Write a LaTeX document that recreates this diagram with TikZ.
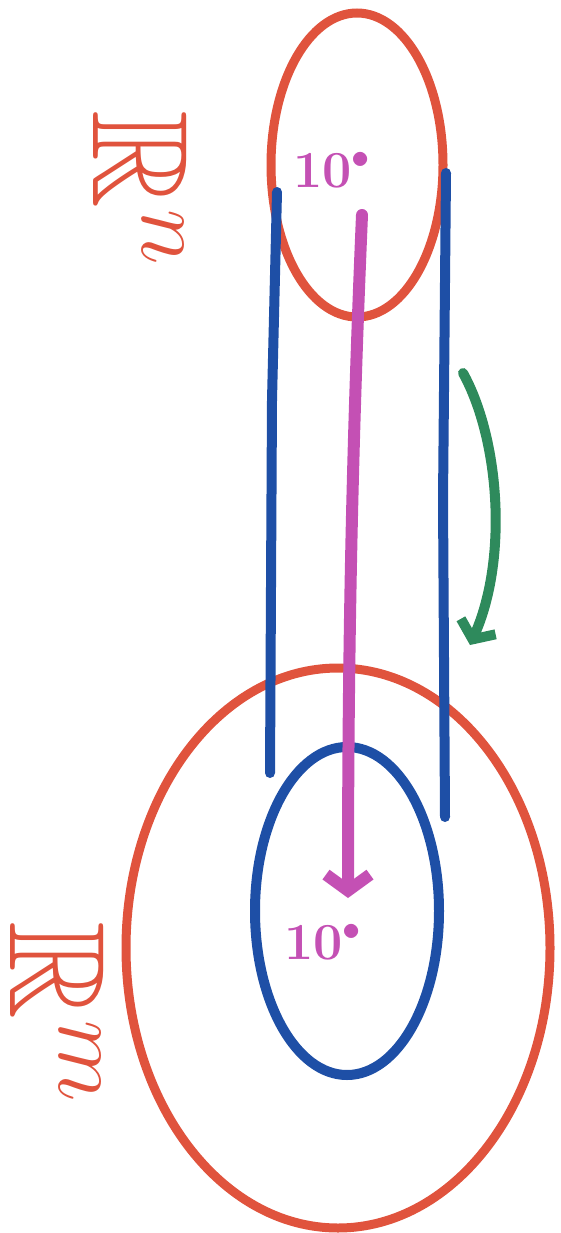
\RequirePackage{fix-cm}
\documentclass[tikz,border=0pt]{standalone}
\usepackage{amssymb}
\usepackage{tikz}
\usetikzlibrary{arrows.meta, positioning}
\definecolor{penred}{HTML}{E0533D}
\definecolor{penblue}{HTML}{1E4FA6}
\definecolor{penpink}{HTML}{C450B4}
\definecolor{pengreen}{HTML}{2E8A5C}

\begin{document}
\begin{tikzpicture}[
    x=1pt, y=-1pt,
    space/.style={draw=penred, line width=9pt},
    image/.style={draw=penblue, line width=10pt},
    tube/.style={penblue, line width=10pt, line cap=round},
    maparrow/.style={-{Straight Barb[length=16pt, width=44pt]}, penpink, line width=12pt, line cap=round},
    flowarrow/.style={-{Straight Barb[length=14pt, width=38pt]}, pengreen, line width=10pt, line cap=round},
    spacelabel/.style={text=penred, rotate=-90, font=\fontsize{136}{136}\selectfont, inner sep=0pt},
    pointlabel/.style={text=penpink, font=\fontsize{52}{52}\selectfont\bfseries, inner sep=0pt}
]
\useasboundingbox (0,0) rectangle (561,1233);

\draw[space] (357,165) ellipse [x radius=86, y radius=152];
\draw[space] (338,948) ellipse [x radius=212, y radius=280];
\draw[image] (347,911) ellipse [x radius=92, y radius=164];

\draw[tube] (277,192) -- (272,400) -- (270,773);
\draw[tube] (446,173) -- (443,500) -- (445,817);

\node[spacelabel] (rn) at (140,188) {$\mathbb{R}^n$};
\node[spacelabel] (rm) at (57,1012) {$\mathbb{R}^m$};
\node[pointlabel] (ptop) at (332,170) {10$^{\bullet}$};
\node[pointlabel] (pbot) at (323,942) {10$^{\bullet}$};

\coordinate (maptail) at (362,215);
\coordinate (maphead) at (348,898);
\coordinate (flowtail) at (463,373);
\coordinate (flowhead) at (470,645);

\draw[maparrow] (maptail) .. controls (352,450) and (348,650) .. (maphead);
\draw[flowarrow] (flowtail) .. controls (500,440) and (508,560) .. (flowhead);

\end{tikzpicture}
\end{document}
